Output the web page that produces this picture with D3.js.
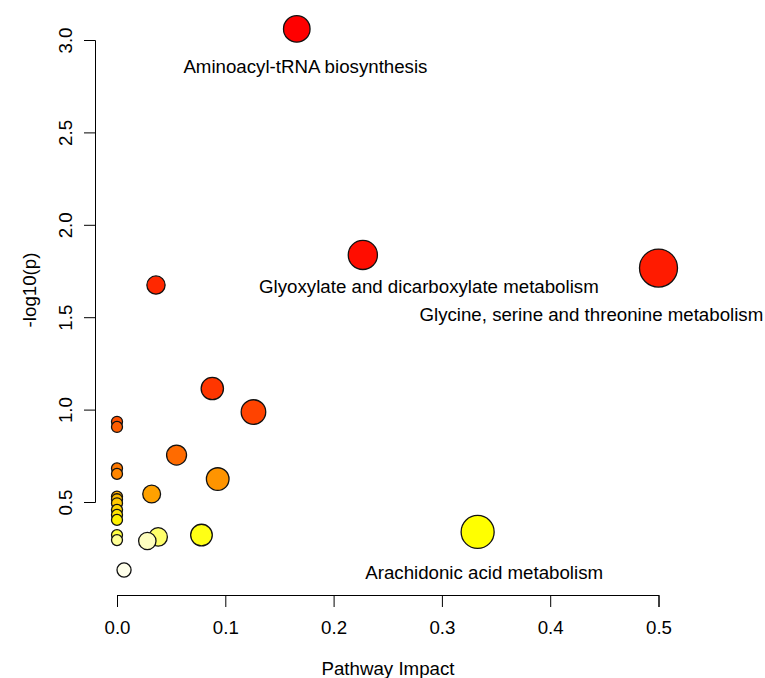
<!DOCTYPE html>
<html>
<head>
<meta charset="utf-8">
<script src="https://cdn.jsdelivr.net/npm/d3@7"></script>
<style>
  body { margin: 0; background: #fff; }
  svg { display: block; font-family: "Liberation Sans", Arial, sans-serif; }
  .axis path, .axis line { stroke: #000; stroke-width: 1; }
  .axis text { fill: #000; font-size: 18.7px; font-family: "Liberation Sans", Arial, sans-serif; }
</style>
</head>
<body>
<div id="chart"></div>
<script>
// Pathway impact (x) and -log10(p) (y), sorted by -log10(p) descending
const impact = [0.166, 0.227, 0.5, 0.036, 0.088, 0.126, 0, 0, 0.055, 0, 0, 0.093, 0.032,
  0, 0, 0, 0, 0, 0, 0.333, 0.078, 0, 0.038, 0, 0.028, 0.0065];
const logP = [3.06, 1.837, 1.766, 1.674, 1.114, 0.987, 0.934, 0.906, 0.754, 0.682, 0.652, 0.624, 0.543,
  0.529, 0.515, 0.493, 0.457, 0.430, 0.403, 0.338, 0.321, 0.321, 0.311, 0.294, 0.289, 0.132];

// Annotated pathways and where their labels sit (data units)
const labelNames = [
  "Aminoacyl-tRNA biosynthesis",
  "Glyoxylate and dicarboxylate metabolism",
  "Glycine, serine and threonine metabolism",
  "Arachidonic acid metabolism"
];
const labelImpact = [0.174, 0.288, 0.438, 0.339];
const labelLogP = [2.859, 1.669, 1.517, 0.121];

const xTicks = [0, 0.1, 0.2, 0.3, 0.4, 0.5];
const yTicks = [0.5, 1.0, 1.5, 2.0, 2.5, 3.0];

const width = 765, height = 678;

const svg = d3.select("#chart").append("svg")
  .attr("width", width)
  .attr("height", height);

const x = d3.scaleLinear().domain([0, 0.5]).range([117, 658.5]);
const y = d3.scaleLinear().domain([0.5, 3.0]).range([502, 40]);
const r = d3.scalePow().exponent(0.5).domain([0, 0.5]).range([5.5, 19]);

// R-like heat.colors palette, assigned by rank of significance
function heatColors(n) {
  const j = Math.floor(n / 4), i = n - j;
  const out = [];
  for (let k = 0; k < i; k++) {
    const h = i > 1 ? (k / (i - 1)) * 60 : 0;
    out.push(d3.hsl(h, 1, 0.5).formatHex());
  }
  for (let k = 0; k < j; k++) {
    const s = j > 1 ? (1 - 1 / (2 * j)) - k * ((1 - 1 / j) / (j - 1)) : 0.5;
    out.push(d3.rgb(255, 255, Math.round(255 * (1 - s))).formatHex());
  }
  return out;
}
const palette = heatColors(logP.length);

// Axes
const xAxis = svg.append("g")
  .attr("class", "axis")
  .attr("transform", "translate(0,595)")
  .call(d3.axisBottom(x).tickValues(xTicks).tickFormat(d3.format(".1f")).tickSizeOuter(0).tickSize(12));
xAxis.selectAll(".tick text").attr("dy", 0).attr("y", 39);

const yAxis = svg.append("g")
  .attr("class", "axis")
  .attr("transform", "translate(95,0)")
  .call(d3.axisLeft(y).tickValues(yTicks).tickFormat(d3.format(".1f")).tickSizeOuter(0).tickSize(11));
yAxis.selectAll(".tick text")
  .attr("x", 0).attr("dy", 0)
  .attr("text-anchor", "middle")
  .attr("transform", "translate(-23,0) rotate(-90)");

// Axis titles
svg.append("text")
  .attr("x", 388).attr("y", 675)
  .attr("text-anchor", "middle")
  .style("font-size", "18.7px")
  .text("Pathway Impact");

svg.append("text")
  .attr("transform", "translate(36,290) rotate(-90)")
  .attr("text-anchor", "middle")
  .style("font-size", "18.7px")
  .text("-log10(p)");

// Bubbles
const points = impact.map((d, i) => ({ impact: d, logP: logP[i], color: palette[i] }));
svg.append("g")
  .selectAll("circle")
  .data(points)
  .enter()
  .append("circle")
  .attr("cx", d => x(d.impact))
  .attr("cy", d => y(d.logP))
  .attr("r", d => r(d.impact))
  .attr("fill", d => d.color)
  .attr("stroke", "#111")
  .attr("stroke-width", 1.3);

// Labels
svg.append("g")
  .selectAll("text")
  .data(labelNames)
  .enter()
  .append("text")
  .attr("x", (d, i) => x(labelImpact[i]))
  .attr("y", (d, i) => y(labelLogP[i]))
  .attr("dy", "0.35em")
  .attr("text-anchor", "middle")
  .style("font-size", "18.7px")
  .style("fill", "#000")
  .text(d => d);
</script>
</body>
</html>
